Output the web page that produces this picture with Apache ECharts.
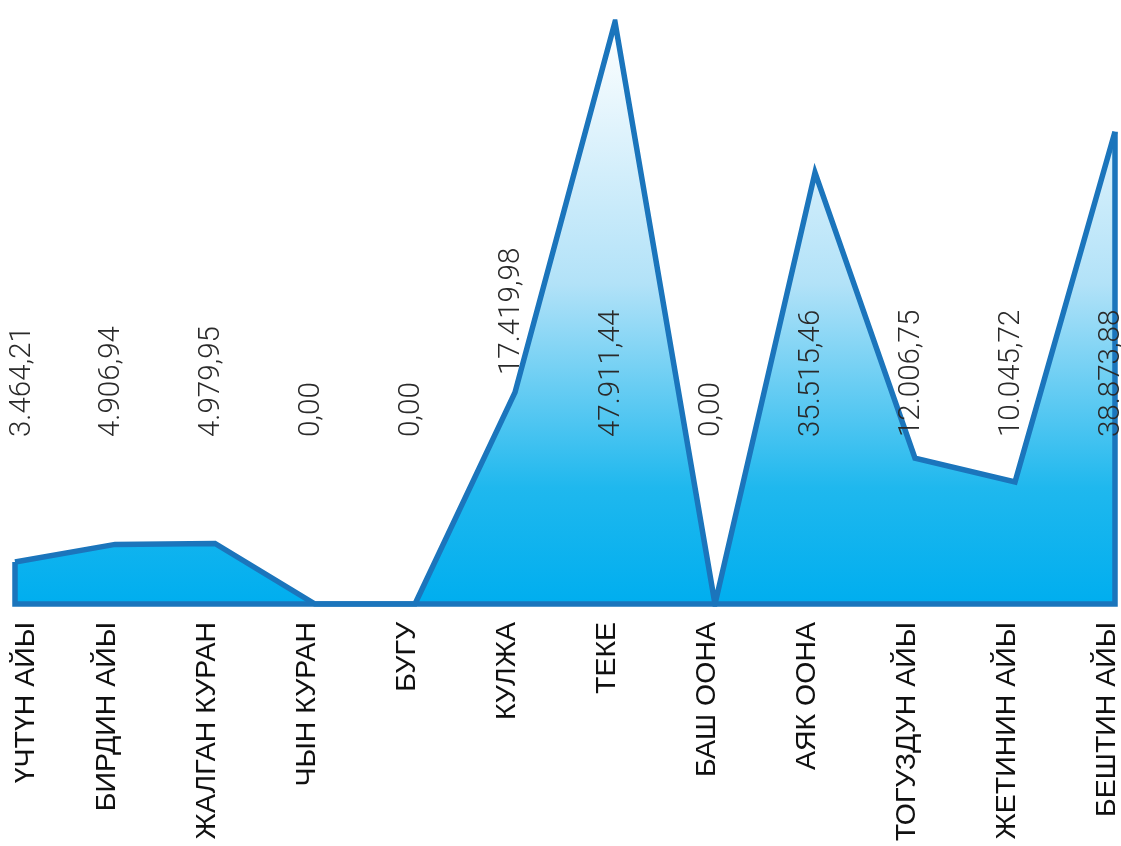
<!DOCTYPE html>
<html>
<head>
<meta charset="utf-8">
<script src="https://cdn.jsdelivr.net/npm/echarts@6/dist/echarts.min.js"></script>
<style>
html,body{margin:0;padding:0;background:#fff;}
#chart{width:1121px;height:846px;}
</style>
</head>
<body>
<div id="chart"></div>
<script>
const categories = ['ҮЧТҮН АЙЫ','БИРДИН АЙЫ','ЖАЛГАН КУРАН','ЧЫН КУРАН','БУГУ','КУЛЖА','ТЕКЕ','БАШ ООНА','АЯК ООНА','ТОГУЗДУН АЙЫ','ЖЕТИНИН АЙЫ','БЕШТИН АЙЫ'];
const values = [3464.21, 4906.94, 4979.95, 0, 0, 17419.98, 47911.44, 0, 35515.46, 12006.75, 10045.72, 38873.88];

function fmt(v){
  const parts = v.toFixed(2).split('.');
  const intPart = parts[0].replace(/\B(?=(\d{3})+(?!\d))/g, '.');
  return intPart + ',' + parts[1];
}

const LINE = '#1b75bc';
const chart = echarts.init(document.getElementById('chart'), null, {renderer:'canvas'});

const option = {
  animation: false,
  grid: {left: 15, right: 6, top: 22, bottom: 242, containLabel: false, outerBoundsMode: 'none'},
  xAxis: {
    type: 'category',
    data: categories,
    boundaryGap: false,
    axisLine: {show: false},
    axisTick: {show: false},
    splitLine: {show: false},
    axisLabel: {show: false}
  },
  yAxis: {
    type: 'value',
    min: 0,
    max: 47911.44,
    show: false,
    splitLine: {show: false}
  },
  series: [
    {
      type: 'line',
      data: values,
      symbol: 'none',
      z: 2,
      lineStyle: {color: LINE, width: 5.5, join: 'miter', miterLimit: 20},
      areaStyle: {
        opacity: 1,
        color: new echarts.graphic.LinearGradient(0, 0, 0, 1, [
          {offset: 0, color: '#ffffff'},
          {offset: 0.45, color: '#b2e2f8'},
          {offset: 0.8, color: '#1fb8ee'},
          {offset: 1, color: '#00aeef'}
        ])
      }
    },
    {
      type: 'custom',
      z: 3,
      silent: true,
      data: [[0, 0]],
      renderItem: function(params, api){
        const n = values.length;
        const pLastTop = api.coord([n - 1, values[n - 1]]);
        const pLastBase = api.coord([n - 1, 0]);
        const pFirstBase = api.coord([0, 0]);
        const pFirstTop = api.coord([0, values[0]]);
        return {
          type: 'polyline',
          shape: {points: [pLastTop, pLastBase, pFirstBase, pFirstTop]},
          style: {stroke: LINE, lineWidth: 5.5, fill: null, lineJoin: 'miter'}
        };
      }
    },
    {
      type: 'custom',
      z: 4,
      silent: true,
      data: values.map((v, i) => [i, v]),
      renderItem: function(params, api){
        const i = api.value(0);
        const base = api.coord([i, 0]);
        let lift = 167;
        if (i === 5) lift = 229;
        let dx = -3;
        if (i === 0) dx = 8;
        return {
          type: 'group',
          children: [
            {
              type: 'text',
              x: base[0] + dx,
              y: base[1] - lift,
              rotation: Math.PI / 2,
              style: {
                text: fmt(values[i]),
                fontFamily: 'Roboto, sans-serif',
                fontWeight: 300,
                fontSize: 29.5,
                fill: '#2a2a2a',
                align: 'left',
                verticalAlign: 'middle'
              }
            },
            {
              type: 'text',
              x: base[0] + (i === 0 ? 11 : -8),
              y: base[1] + 18,
              rotation: Math.PI / 2,
              style: {
                text: categories[i],
                fontFamily: 'Liberation Sans, Arial, sans-serif',
                fontSize: 28.5,
                fill: '#111',
                align: 'right',
                verticalAlign: 'middle'
              }
            }
          ]
        };
      }
    }
  ]
};
chart.setOption(option);
</script>
</body>
</html>
